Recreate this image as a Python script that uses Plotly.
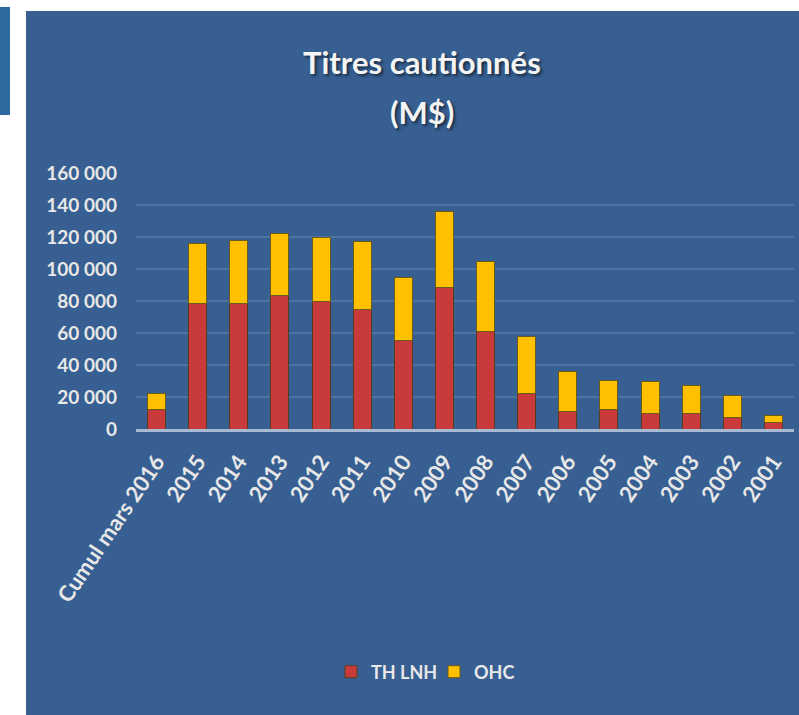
import plotly.graph_objects as go

categories = ["Cumul mars 2016", "2015", "2014", "2013", "2012", "2011", "2010", "2009",
              "2008", "2007", "2006", "2005", "2004", "2003", "2002", "2001"]
th_lnh = [12500, 78700, 78300, 83500, 79400, 75000, 55400, 88500,
          61000, 21900, 11000, 12000, 9800, 9400, 7300, 3800]
ohc = [9500, 37100, 39400, 39000, 40000, 42000, 39600, 47300,
       43600, 35800, 24800, 18200, 19800, 17700, 13500, 4500]
y_ticks = [0, 20000, 40000, 60000, 80000, 100000, 120000, 140000, 160000]
y_tick_labels = ["0", "20 000", "40 000", "60 000", "80 000", "100 000", "120 000", "140 000", "160 000"]

BG = "#375f91"
TXT = "#e8e8e8"
FONT = "Lato"

W, H = 799, 715
L, R, T, B = 136, 5, 173, 286
PW, PH = W - L - R, H - T - B


def px_x(px):
    return (px - L) / PW


def px_y(py):
    return (H - B - py) / PH


fig = go.Figure()
fig.add_trace(go.Bar(
    name="TH LNH", x=categories, y=th_lnh,
    marker=dict(color="#c93b3b", line=dict(color="#5e3a1c", width=1)),
))
fig.add_trace(go.Bar(
    name="OHC", x=categories, y=ohc,
    marker=dict(color="#ffc000", line=dict(color="#6b5a1a", width=1)),
))

fig.update_layout(
    width=W, height=H,
    margin=dict(l=L, r=R, t=T, b=B),
    barmode="stack", bargap=0.56,
    paper_bgcolor="white", plot_bgcolor=BG,
    showlegend=True,
    legend=dict(orientation="h", x=px_x(434), xanchor="center", y=px_y(672), yanchor="middle",
                font=dict(family=FONT, size=18, color=TXT, weight="bold"),
                bgcolor="rgba(0,0,0,0)", itemwidth=30, traceorder="normal",
                entrywidth=58),
    font=dict(family=FONT),
    shapes=[
        dict(type="rect", xref="paper", yref="paper", x0=px_x(26), x1=px_x(805),
             y0=px_y(720), y1=px_y(11), fillcolor=BG, line=dict(width=0), layer="below"),
        dict(type="rect", xref="paper", yref="paper", x0=px_x(-5), x1=px_x(10),
             y0=px_y(115), y1=px_y(7), fillcolor="#30699f", line=dict(width=0), layer="below"),
    ],
    annotations=[
        dict(text="Titres cautionnés", xref="paper", yref="paper", x=px_x(421.5), y=px_y(62),
             xanchor="center", yanchor="middle", showarrow=False,
             font=dict(family=FONT, size=31, color="#f4f4f4", weight="bold",
                       shadow="2px 2px 3px rgba(0,0,0,0.55)")),
        dict(text="(M$)", xref="paper", yref="paper", x=px_x(422), y=px_y(112),
             xanchor="center", yanchor="middle", showarrow=False,
             font=dict(family=FONT, size=31, color="#f4f4f4", weight="bold",
                       shadow="2px 2px 3px rgba(0,0,0,0.55)")),
    ],
)

fig.update_xaxes(
    tickangle=-56, showgrid=False, ticks="",
    tickfont=dict(family=FONT, size=22, color=TXT, weight="bold"),
    showline=True, linecolor="#a9bbd2", linewidth=3, ticklabelstandoff=8,
    fixedrange=True,
)
fig.update_yaxes(
    range=[0, 160000], tickvals=y_ticks, ticktext=y_tick_labels,
    tickfont=dict(family=FONT, size=19, color=TXT, weight="bold"),
    showgrid=True, gridcolor="#4f74a0", gridwidth=1.5,
    zeroline=False, showline=False, ticks="", ticklabelstandoff=18,
    fixedrange=True,
)

fig.write_html("out.html", config={"displayModeBar": False},
               post_script="document.body.style.margin='0';")
